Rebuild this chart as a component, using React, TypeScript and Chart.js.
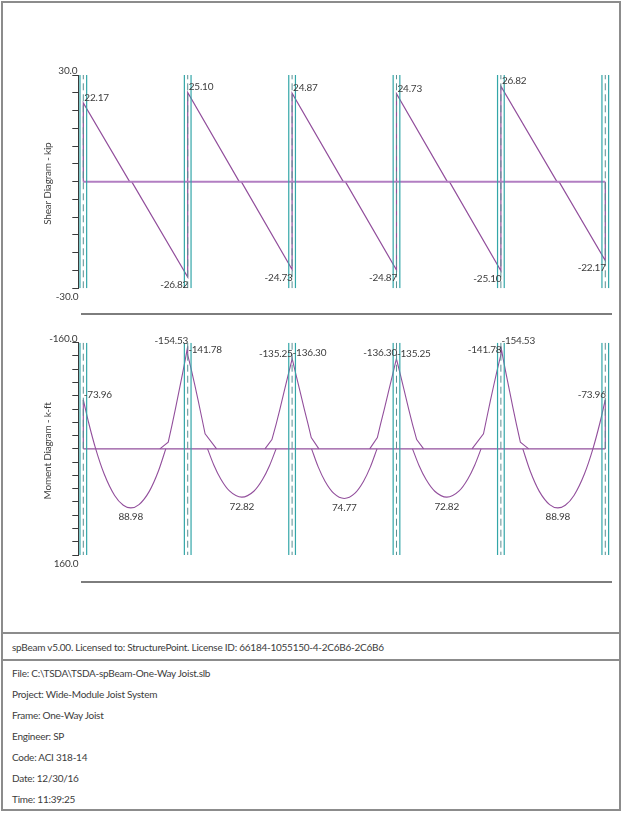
import React, { useEffect, useRef } from "react";
import { Chart, registerables } from "chart.js";

Chart.register(...registerables);

// ---------- data ----------
const supports = [0, 30, 60, 90, 120, 150]; // ft
const columnHalfWidth = 0.96; // ft

// shear (kip) at span ends, and where each span's diagram meets zero (ft from span start)
const shearLeft = [22.17, 25.1, 24.87, 24.73, 26.82];
const shearRight = [-26.82, -24.73, -24.87, -25.1, -22.17];
const shearZeroStart = [13.3, 14.8, 14.7, 14.6, 16.1];
const shearZeroEnd = [13.9, 15.4, 15.3, 15.2, 16.7];
const shearAxisLabels = ["30.0", "-30.0"];
const shearRange = [-30, 30];

// moment (k-ft) at span ends and mid-span maxima
const momentLeftEnd = [-73.96, -141.78, -136.3, -135.25, -154.53];
const momentRightEnd = [-154.53, -135.25, -136.3, -141.78, -73.96];
const momentMidMax = [88.98, 72.82, 74.77, 72.82, 88.98];
const momentMidX = [13.63, 45.55, 75, 104.45, 136.37];
const momentAxisLabels = ["-160.0", "160.0"];
const momentRange = [-160, 160];

// positive (sagging) curves per span: [x ft, M k-ft]
const sagSpan1 = [[0, -73.96], [1.5, -40.1], [3.56, 0], [6, 37.9], [9, 70.2], [11.5, 85.0], [13.63, 88.98], [16, 84.0], [19, 63.7], [21.5, 34.6], [23.7, 0]];
const sagSpan2 = [[35.7, 0], [37.5, 24.2], [39.5, 45.4], [42, 63.4], [45.55, 72.82], [49, 63.9], [51.5, 46.3], [53.5, 25.4], [55.4, 0]];
const sagSpan3 = [[65.6, 0], [67.5, 27.2], [69.5, 49.2], [72, 67.2], [75, 74.77], [78, 67.2], [80.5, 49.2], [82.5, 27.2], [84.4, 0]];
const sagSpan4 = [[94.6, 0], [96.5, 25.4], [98.5, 46.3], [101, 63.9], [104.45, 72.82], [108, 63.4], [110.5, 45.4], [112.5, 24.2], [114.3, 0]];
const sagSpan5 = [[126.3, 0], [128.5, 34.6], [131, 63.7], [134, 84.0], [136.37, 88.98], [138.5, 85.0], [141, 70.2], [144, 37.9], [146.44, 0], [148.5, -40.1], [150, -73.96]];

// negative (hogging) regions around the supports
const hogS1 = [[0, 0], [0, -73.96]];
const hogS2 = [[22.0, 0], [24.4, -10], [25.5, -36], [26.5, -61], [27.5, -87], [28.5, -113], [29.3, -134.5], [30, -154.53], [30, -141.78], [31, -120], [32, -97], [33, -73], [34, -48], [35.0, -22.6], [38.3, 0]];
const hogS3 = [[52.2, 0], [54.2, -14], [55.4, -37], [56.5, -60], [57.6, -84], [58.8, -110], [60, -135.25], [60, -136.3], [61.2, -110], [62.4, -84], [63.5, -60], [64.6, -37], [65.5, -17], [67.7, 0]];
const hogS4 = [[82.3, 0], [84.5, -17], [85.4, -37], [86.5, -60], [87.6, -84], [88.8, -110], [90, -136.3], [90, -135.25], [91.2, -110], [92.4, -84], [93.5, -60], [94.6, -37], [95.8, -14], [97.8, 0]];
const hogS5 = [[111.7, 0], [115.0, -22.6], [116, -48], [117, -73], [118, -97], [119, -120], [120, -141.78], [120, -154.53], [120.7, -134.5], [121.5, -113], [122.5, -87], [123.5, -61], [124.5, -36], [125.6, -10], [128.0, 0]];
const hogS6 = [[150, -73.96], [150, 0]];

const infoLines = [
  "File: C:\\TSDA\\TSDA-spBeam-One-Way Joist.slb",
  "Project: Wide-Module Joist System",
  "Frame: One-Way Joist",
  "Engineer: SP",
  "Code: ACI 318-14",
  "Date: 12/30/16",
  "Time: 11:39:25",
];
const licenseLine = "spBeam v5.00. Licensed to: StructurePoint. License ID: 66184-1055150-4-2C6B6-2C6B6";

// ---------- styles ----------
const FONT_FAMILY = "Lato, 'Open Sans', sans-serif";
const FONT = "10px " + FONT_FAMILY;
const TEXT = "#3c3c3c";
const AXIS = "#3a3a3a";
const CYAN = "#33a6a8";
const DASH = "#5b8f92";
const PURPLE = "#924f9c";
const ZERO_SHEAR = "#b27ec2";
const X_MIN = -1.44;
const X_MAX = 151.93;

const pts = (arr: number[][]) => arr.map(([x, y]) => ({ x, y }));

function supportDatasets(ymin: number, ymax: number) {
  const ds: any[] = [];
  supports.forEach((s) => {
    [-columnHalfWidth, columnHalfWidth].forEach((o) =>
      ds.push({ data: [{ x: s + o, y: ymin }, { x: s + o, y: ymax }], borderColor: CYAN, borderWidth: 1.2 })
    );
    ds.push({ data: [{ x: s, y: ymin }, { x: s, y: ymax }], borderColor: DASH, borderWidth: 1, borderDash: [7, 4] });
  });
  return ds;
}

type Lbl = { text: string; x: number; y: number; align: CanvasTextAlign; dx: number; dy: number };

function labelPlugin(title: string, axisLabels: string[], labels: Lbl[]) {
  return {
    id: "diagramLabels",
    afterDraw(chart: any) {
      const { ctx, chartArea } = chart;
      const xs = chart.scales.x;
      const ys = chart.scales.y;
      ctx.save();
      ctx.font = FONT;
      ctx.fillStyle = TEXT;
      try { (ctx as any).letterSpacing = "-0.2px"; } catch (e) {}
      ctx.save();
      ctx.translate(48, (chartArea.top + chartArea.bottom) / 2 + 2);
      ctx.rotate(-Math.PI / 2);
      ctx.textAlign = "center";
      ctx.textBaseline = "middle";
      ctx.fillText(title, 0, 0);
      ctx.restore();
      ctx.textBaseline = "alphabetic";
      ctx.textAlign = "right";
      ctx.fillText(axisLabels[0], chartArea.left - 1, chartArea.top - 1);
      ctx.fillText(axisLabels[1], chartArea.left, chartArea.bottom + 12);
      labels.forEach((l) => {
        ctx.textAlign = l.align;
        ctx.fillText(l.text, xs.getPixelForValue(l.x) + l.dx, ys.getPixelForValue(l.y) + l.dy);
      });
      ctx.restore();
    },
  };
}

function baseOptions(padding: any, range: number[], step: number, reverse: boolean) {
  return {
    animation: false,
    responsive: false,
    maintainAspectRatio: false,
    events: [],
    layout: { padding },
    plugins: { legend: { display: false }, tooltip: { enabled: false } },
    elements: { point: { radius: 0 }, line: { tension: 0, fill: false } },
    scales: {
      x: { type: "linear", display: false, min: X_MIN, max: X_MAX },
      y: {
        type: "linear",
        min: range[0],
        max: range[1],
        reverse,
        ticks: { display: false, stepSize: step },
        grid: { drawOnChartArea: false, drawTicks: true, tickLength: 6, color: AXIS, lineWidth: 1 },
        border: { display: true, color: AXIS, width: 1 },
      },
    },
  };
}

function ShearChart() {
  const ref = useRef<HTMLCanvasElement>(null);
  useEffect(() => {
    const shearPts: any[] = [{ x: supports[0], y: 0 }];
    for (let i = 0; i < shearLeft.length; i++) {
      shearPts.push({ x: supports[i], y: shearLeft[i] });
      shearPts.push({ x: supports[i] + shearZeroStart[i], y: 0 });
      shearPts.push({ x: supports[i] + shearZeroEnd[i], y: 0 });
      shearPts.push({ x: supports[i + 1], y: shearRight[i] });
    }
    shearPts.push({ x: supports[supports.length - 1], y: 0 });
    const labels: Lbl[] = [];
    shearLeft.forEach((v, i) => labels.push({ text: v.toFixed(2), x: supports[i], y: v, align: "left", dx: 1, dy: -2 }));
    shearRight.forEach((v, i) => labels.push({ text: v.toFixed(2), x: supports[i + 1], y: v, align: "right", dx: 0.5, dy: 11 }));
    const chart = new Chart(ref.current as HTMLCanvasElement, {
      type: "line",
      data: {
        datasets: [
          ...supportDatasets(shearRange[0], shearRange[1]),
          { data: [{ x: supports[0], y: 0 }, { x: supports[supports.length - 1], y: 0 }], borderColor: ZERO_SHEAR, borderWidth: 2 },
          { data: shearPts, borderColor: PURPLE, borderWidth: 1.2 },
        ],
      },
      options: baseOptions({ left: 72.3, right: 12, top: 75, bottom: 11.7 }, shearRange, 5, false) as any,
      plugins: [labelPlugin("Shear Diagram - kip", shearAxisLabels, labels)],
    });
    return () => chart.destroy();
  }, []);
  return <canvas ref={ref} width={624} height={300} style={{ position: "absolute", left: 0, top: 0, width: 624, height: 300 }} />;
}

function MomentChart() {
  const ref = useRef<HTMLCanvasElement>(null);
  useEffect(() => {
    const labels: Lbl[] = [];
    momentLeftEnd.forEach((v, i) => labels.push({ text: v.toFixed(2), x: supports[i], y: v, align: "left", dx: 0.5, dy: -2 }));
    momentRightEnd.forEach((v, i) => labels.push({ text: v.toFixed(2), x: supports[i + 1], y: v, align: "right", dx: 0.5, dy: -2 }));
    momentMidMax.forEach((v, i) => labels.push({ text: v.toFixed(2), x: momentMidX[i], y: v, align: "center", dx: 0, dy: 12.5 }));
    const curve = (arr: number[][], smooth: boolean) => ({
      data: pts(arr),
      borderColor: PURPLE,
      borderWidth: 1.1,
      cubicInterpolationMode: smooth ? "monotone" : "default",
    });
    const chart = new Chart(ref.current as HTMLCanvasElement, {
      type: "line",
      data: {
        datasets: [
          ...supportDatasets(momentRange[0], momentRange[1]),
          { data: [{ x: supports[0], y: 0 }, { x: supports[supports.length - 1], y: 0 }], borderColor: PURPLE, borderWidth: 1.2 },
          curve(sagSpan1, true),
          curve(sagSpan2, true),
          curve(sagSpan3, true),
          curve(sagSpan4, true),
          curve(sagSpan5, true),
          curve(hogS1, false),
          curve(hogS2, false),
          curve(hogS3, false),
          curve(hogS4, false),
          curve(hogS5, false),
          curve(hogS6, false),
        ] as any,
      },
      options: baseOptions({ left: 72.3, right: 12, top: 22.7, bottom: 15 }, momentRange, 20, true) as any,
      plugins: [labelPlugin("Moment Diagram - k-ft", momentAxisLabels, labels)],
    });
    return () => chart.destroy();
  }, []);
  return <canvas ref={ref} width={624} height={250} style={{ position: "absolute", left: 0, top: 320, width: 624, height: 250 }} />;
}

const hLine = (top: number, left: number, width: number, h: number, color: string) => (
  <div style={{ position: "absolute", top, left, width, height: h, background: color }} />
);

const textStyle: React.CSSProperties = {
  position: "absolute",
  left: 12,
  fontSize: 10,
  lineHeight: "16px",
  letterSpacing: "-0.25px",
  color: TEXT,
  whiteSpace: "nowrap",
};

export default function App() {
  const rowTops = [665, 686, 707, 728, 749, 770, 791];
  return (
    <div style={{ position: "absolute", left: 0, top: 0, width: 624, height: 813, background: "#fff", overflow: "hidden", fontFamily: FONT_FAMILY }}>
      <div style={{ position: "absolute", left: 1, top: 1, width: 620, height: 810, border: "2px solid #8c8c8c", boxSizing: "border-box" }} />
      <ShearChart />
      <MomentChart />
      {hLine(313, 81, 531, 2, "#7d7d7d")}
      {hLine(581, 81, 531, 2, "#7d7d7d")}
      {hLine(632, 1, 620, 2, "#8c8c8c")}
      {hLine(659, 1, 620, 2, "#8c8c8c")}
      <div style={{ ...textStyle, top: 639 }}>{licenseLine}</div>
      {infoLines.map((t, i) => (
        <div key={i} style={{ ...textStyle, top: rowTops[i] }}>{t}</div>
      ))}
    </div>
  );
}
